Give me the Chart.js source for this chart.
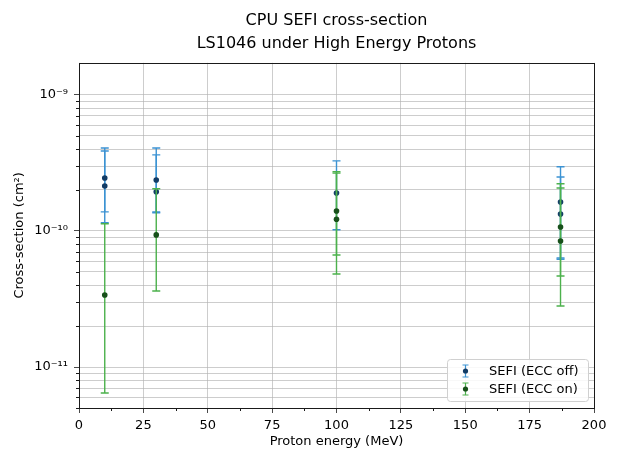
<!DOCTYPE html>
<html>
<head>
<meta charset="utf-8">
<script src="https://cdn.jsdelivr.net/npm/chart.js@4.4.1/dist/chart.umd.min.js"></script>
<style>
html,body{margin:0;padding:0;background:#fff;}
#wrap{width:621px;height:452px;}
</style>
</head>
<body>
<div id="wrap"><canvas id="c" width="621" height="452"></canvas></div>
<script>
// ---- data ----
const titleLines = ['CPU SEFI cross-section', 'LS1046 under High Energy Protons'];
const xAxisTitle = 'Proton energy (MeV)';
const yAxisTitle = 'Cross-section (cm\u00B2)';
const seriesNames = ['SEFI (ECC off)', 'SEFI (ECC on)'];

const energyOff = [10, 10, 30, 30, 100, 187, 187];
const sigmaOff  = [2.45e-10, 2.14e-10, 2.37e-10, 1.94e-10, 1.90e-10, 1.63e-10, 1.33e-10];
const upperOff  = [4.07e-10, 3.87e-10, 4.07e-10, 3.62e-10, 3.27e-10, 2.96e-10, 2.49e-10];
const lowerOff  = [1.38e-10, 1.15e-10, 1.38e-10, 1.36e-10, 1.02e-10, 6.32e-11, 6.2e-11];

const energyOn = [10, 30, 100, 100, 187, 187];
const sigmaOn  = [3.38e-11, 9.35e-11, 1.40e-10, 1.22e-10, 1.07e-10, 8.43e-11];
const upperOn  = [1.13e-10, 2.04e-10, 2.72e-10, 2.66e-10, 2.22e-10, 2.07e-10];
const lowerOn  = [6.44e-12, 3.62e-11, 6.66e-11, 4.83e-11, 4.67e-11, 2.81e-11];

const xTickValues = [0, 25, 50, 75, 100, 125, 150, 175, 200];
const xTickLabels = ['0', '25', '50', '75', '100', '125', '150', '175', '200'];
const xMinorValues = [12.5, 37.5, 62.5, 87.5, 112.5, 137.5, 162.5, 187.5];
const yTickValues = [1e-11, 1e-10, 1e-9];
const yTickLabels = ['10\u207B\u00B9\u00B9', '10\u207B\u00B9\u2070', '10\u207B\u2079'];
const yMinorValues = [5e-12, 6e-12, 7e-12, 8e-12, 9e-12,
  2e-11, 3e-11, 4e-11, 5e-11, 6e-11, 7e-11, 8e-11, 9e-11,
  2e-10, 3e-10, 4e-10, 5e-10, 6e-10, 7e-10, 8e-10, 9e-10];
const xRange = [0, 200];
const yRange = [5.0e-12, 1.72e-9];

// ---- styles ----
const FONT = "'DejaVu Sans', 'Liberation Sans', sans-serif";
const GRID = 'rgba(176,176,176,0.8)';
const styles = [
  {bar: '#3c93d3', dot: '#123c66'},
  {bar: '#4cb14c', dot: '#17501a'}
];

function toPoints(xs, ys, up, lo) {
  return xs.map((x, i) => ({x: x, y: ys[i], yMax: up[i], yMin: lo[i]}));
}

// order: lower value is drawn on top -> the ECC-on series is painted over ECC-off
const datasets = [
  {label: seriesNames[0], data: toPoints(energyOff, sigmaOff, upperOff, lowerOff), order: 2,
   backgroundColor: styles[0].dot, borderColor: styles[0].dot, pointRadius: 2.8, pointBorderWidth: 0,
   errorColor: styles[0].bar},
  {label: seriesNames[1], data: toPoints(energyOn, sigmaOn, upperOn, lowerOn), order: 1,
   backgroundColor: styles[1].dot, borderColor: styles[1].dot, pointRadius: 2.8, pointBorderWidth: 0,
   errorColor: styles[1].bar}
];

const isMajorY = v => yTickValues.some(t => Math.abs(v / t - 1) < 1e-6);

const errorBarPlugin = {
  id: 'errorbars',
  beforeDatasetDraw(chart, args) {
    const ds = chart.data.datasets[args.index];
    const xs = chart.scales.x, ys = chart.scales.y, ctx = chart.ctx;
    ctx.save();
    ctx.strokeStyle = ds.errorColor;
    ctx.lineWidth = 1.4;
    ds.data.forEach(p => {
      const px = xs.getPixelForValue(p.x);
      const yt = ys.getPixelForValue(p.yMax), yb = ys.getPixelForValue(p.yMin);
      ctx.beginPath();
      ctx.moveTo(px, yt); ctx.lineTo(px, yb);
      ctx.moveTo(px - 4, yt); ctx.lineTo(px + 4, yt);
      ctx.moveTo(px - 4, yb); ctx.lineTo(px + 4, yb);
      ctx.stroke();
    });
    ctx.restore();
  }
};

const framePlugin = {
  id: 'frame',
  afterDatasetsDraw(chart) {
    const ctx = chart.ctx, a = chart.chartArea;
    const xs = chart.scales.x, ys = chart.scales.y;
    ctx.save();
    ctx.strokeStyle = '#1a1a1a';
    ctx.lineWidth = 1;
    // minor ticks
    ctx.beginPath();
    xMinorValues.forEach(v => {
      const px = Math.round(xs.getPixelForValue(v)) + 0.5;
      ctx.moveTo(px, a.bottom); ctx.lineTo(px, a.bottom + 3);
    });
    yMinorValues.forEach(v => {
      const py = Math.round(ys.getPixelForValue(v)) + 0.5;
      ctx.moveTo(a.left, py); ctx.lineTo(a.left - 3, py);
    });
    ctx.stroke();
    // spines
    ctx.strokeRect(Math.round(a.left) + 0.5, Math.round(a.top) + 0.5,
      Math.round(a.right - a.left), Math.round(a.bottom - a.top));
    ctx.restore();
  },
  afterDraw(chart) {
    // legend (lower right, inside axes)
    const ctx = chart.ctx, a = chart.chartArea;
    const w = 141, h = 42;
    const bx = a.right - 6 - w, by = a.bottom - 7 - h;
    ctx.save();
    ctx.beginPath();
    if (ctx.roundRect) ctx.roundRect(bx + 0.5, by + 0.5, w, h, 3); else ctx.rect(bx + 0.5, by + 0.5, w, h);
    ctx.fillStyle = 'rgba(255,255,255,0.85)';
    ctx.fill();
    ctx.strokeStyle = '#d0d0d0';
    ctx.lineWidth = 1;
    ctx.stroke();
    chart.data.datasets.forEach((ds, i) => {
      const cy = by + 12 + i * 18;
      const ix = Math.round(bx + 18) + 0.5;
      ctx.strokeStyle = ds.errorColor;
      ctx.lineWidth = 1.2;
      ctx.beginPath();
      ctx.moveTo(ix, cy - 6); ctx.lineTo(ix, cy + 6);
      ctx.moveTo(ix - 3, cy - 6); ctx.lineTo(ix + 3, cy - 6);
      ctx.moveTo(ix - 3, cy + 6); ctx.lineTo(ix + 3, cy + 6);
      ctx.stroke();
      ctx.fillStyle = ds.backgroundColor;
      ctx.beginPath(); ctx.arc(ix, cy, 2.6, 0, Math.PI * 2); ctx.fill();
      ctx.fillStyle = '#000';
      ctx.font = '13px ' + FONT;
      ctx.textBaseline = 'middle';
      ctx.textAlign = 'left';
      ctx.fillText(ds.label, bx + 42, cy + 1);
    });
    ctx.restore();
  }
};

Chart.defaults.font.family = FONT;
Chart.defaults.color = '#000';

new Chart(document.getElementById('c'), {
  type: 'scatter',
  data: {datasets: datasets},
  plugins: [errorBarPlugin, framePlugin],
  options: {
    responsive: false,
    animation: false,
    layout: {padding: {left: 0, right: 27, top: 0, bottom: 0}},
    plugins: {
      legend: {display: false},
      tooltip: {enabled: false},
      title: {
        display: true, text: titleLines, fullSize: false, color: '#000',
        font: {family: FONT, size: 16, weight: 'normal', lineHeight: 1.4},
        padding: {top: 10, bottom: 8}
      }
    },
    scales: {
      x: {
        type: 'linear', min: xRange[0], max: xRange[1],
        afterFit: s => { s.height = 44; },
        afterBuildTicks: s => { s.ticks = xTickValues.map(v => ({value: v})); },
        ticks: {
          autoSkip: false, maxRotation: 0, padding: 5,
          font: {size: 13, family: FONT},
          callback: (v) => { const i = xTickValues.indexOf(v); return i >= 0 ? xTickLabels[i] : ''; }
        },
        grid: {color: GRID, lineWidth: 0.8, tickColor: '#1a1a1a', tickLength: 5, drawTicks: true},
        border: {display: false},
        title: {display: true, text: xAxisTitle, font: {size: 13, family: FONT}, padding: {top: 0, bottom: 3}}
      },
      y: {
        type: 'logarithmic', min: yRange[0], max: yRange[1],
        afterFit: s => { s.width = 79; },
        afterBuildTicks: s => {
          const all = yMinorValues.concat(yTickValues).sort((p, q) => p - q);
          s.ticks = all.map(v => ({value: v, major: isMajorY(v)}));
        },
        ticks: {
          autoSkip: false, padding: 6,
          font: {size: 13, family: FONT},
          callback: (v) => { const i = yTickValues.findIndex(t => Math.abs(v / t - 1) < 1e-6); return i >= 0 ? yTickLabels[i] : ''; }
        },
        grid: {
          color: GRID, lineWidth: 0.8, tickLength: 5, drawTicks: true,
          tickColor: (c) => (c.tick && isMajorY(c.tick.value)) ? '#1a1a1a' : 'rgba(0,0,0,0)'
        },
        border: {display: false},
        title: {display: true, text: yAxisTitle, font: {size: 13, family: FONT}, padding: {top: 12, bottom: 0}}
      }
    }
  }
});
</script>
</body>
</html>
